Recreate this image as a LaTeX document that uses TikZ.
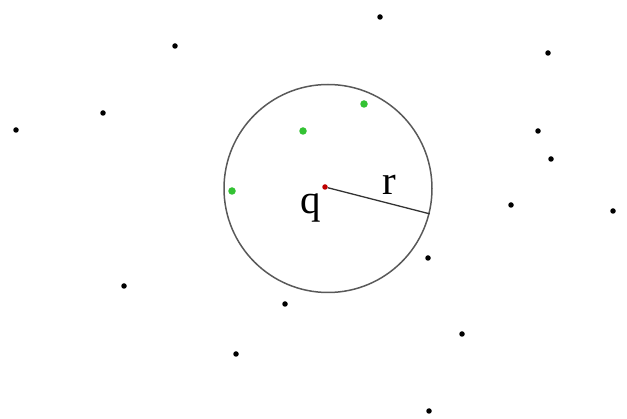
\documentclass[tikz,border=0pt]{standalone}
\usepackage{fontspec}
\setmainfont{Liberation Serif}
\usetikzlibrary{positioning}

\begin{document}
\begin{tikzpicture}[
  x=1pt,y=-1pt,
  pt/.style={circle,fill=black,inner sep=0pt,minimum size=5.5pt},
  near/.style={circle,fill=green!70!black!80,inner sep=0pt,minimum size=7.5pt},
  query/.style={circle,fill=red!75!black,inner sep=0pt,minimum size=5.5pt},
  ballbox/.style={draw=black!65,line width=1.5pt,circle,inner sep=0pt,minimum size=208pt},
  lbl/.style={font=\fontsize{41}{41}\selectfont,inner sep=0pt,anchor=base}
]
\useasboundingbox (0,0) rectangle (627,419);

% query range
\node[ballbox] (ball) at (328,188.5) {};
\node[query] (q) at (325,187) {};
\draw[black!80,line width=1.3pt] (q) -- (ball.-14);
\node[lbl] (ql) at (310.5,214) {q};
\node[lbl] (rl) at (389,195) {r};

% points inside the range
\foreach \n/\x/\y in {g1/364/104,g2/303/131,g3/232/191}
  \node[near] (\n) at (\x,\y) {};

% other points
\foreach \n/\x/\y in {p1/380/17,p2/175/46,p3/548/53,p4/103/113,p5/16/130,
  p6/538/131,p7/551/159,p8/511/205,p9/613/211,p10/428/258,p11/124/286,
  p12/285/304,p13/462/334,p14/236/354,p15/429/411}
  \node[pt] (\n) at (\x,\y) {};
\end{tikzpicture}
\end{document}
